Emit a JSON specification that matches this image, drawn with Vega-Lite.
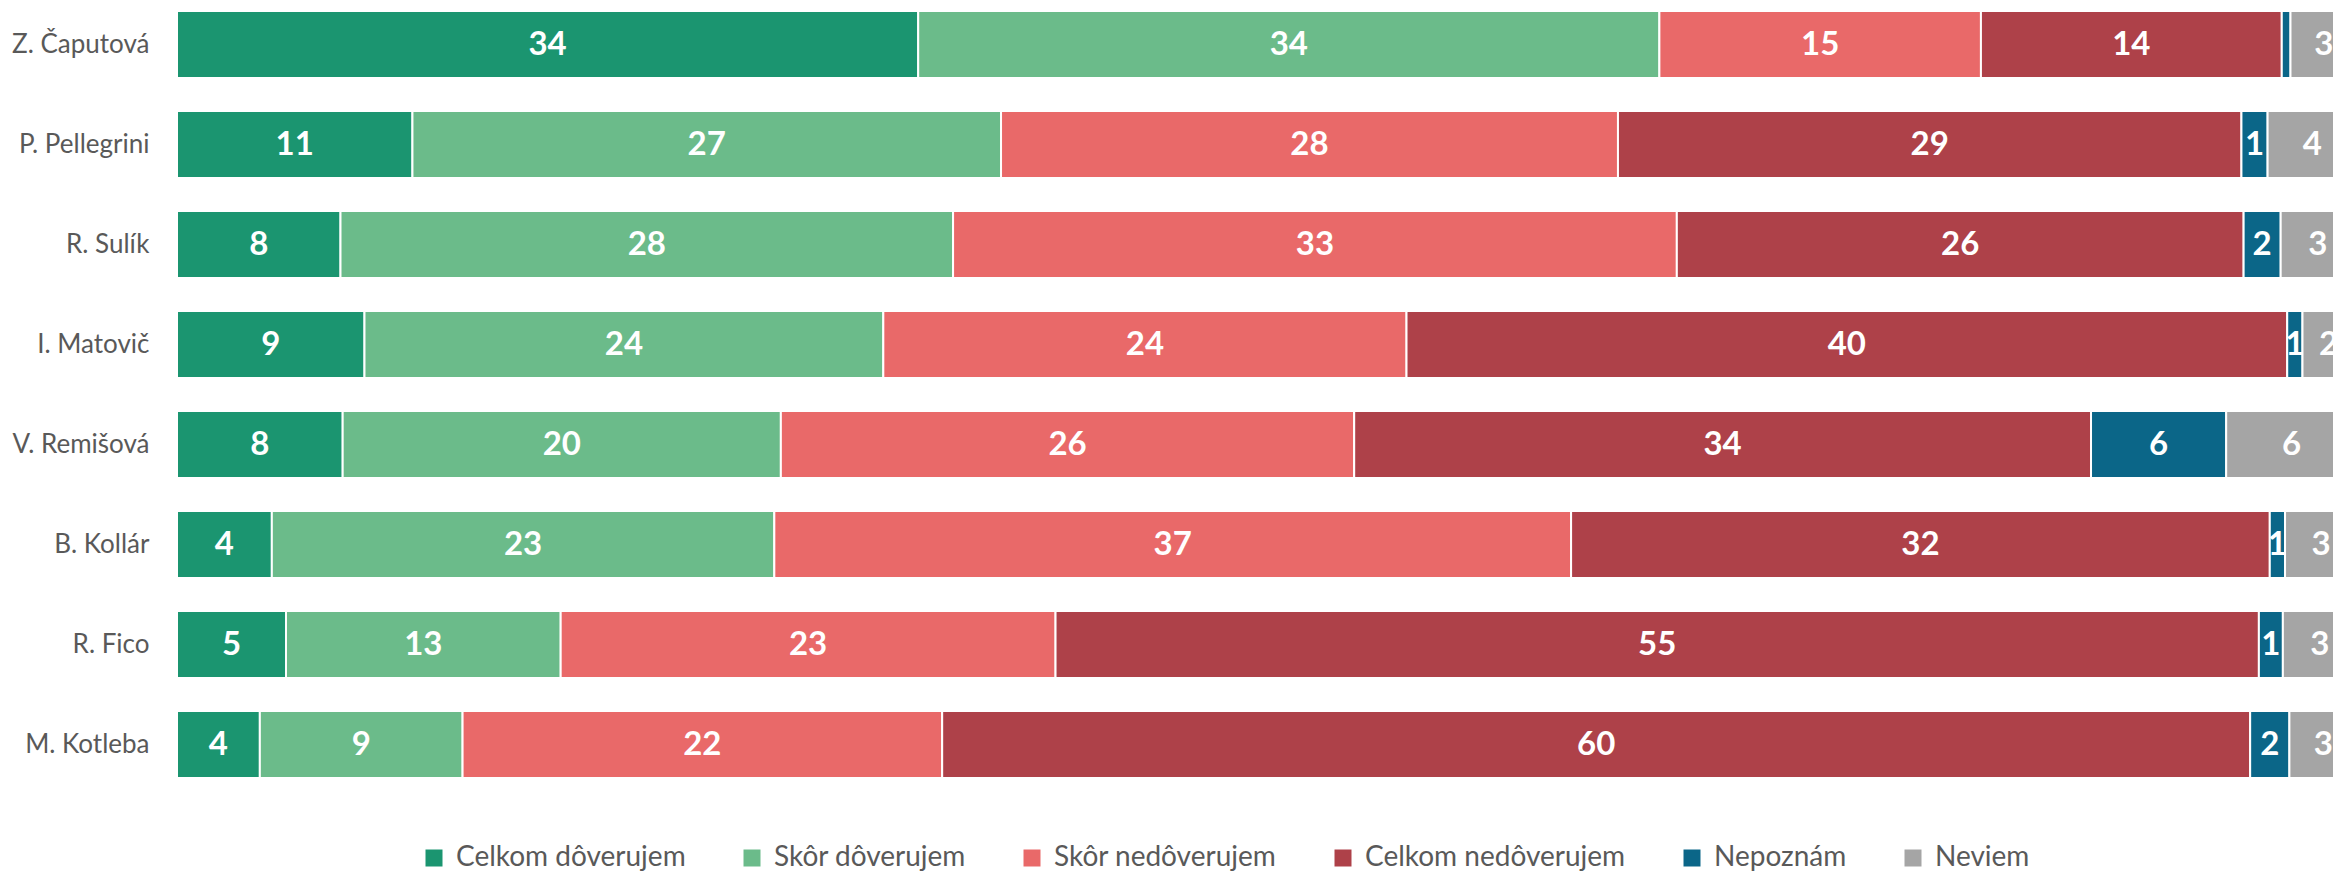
{
  "$schema": "https://vega.github.io/schema/vega-lite/v6.json",
  "width": 2156,
  "height": 789,
  "autosize": {"type": "none"},
  "padding": {"left": 177, "top": 0, "right": 0, "bottom": 82},
  "background": "white",
  "config": {"view": {"stroke": null}, "font": "Lato"},
  "data": {
    "values": [
      {"kandidat": "Z. Čaputová", "odpoved": "Celkom dôverujem", "poradie": 1, "podiel": 34.0},
      {"kandidat": "Z. Čaputová", "odpoved": "Skôr dôverujem", "poradie": 2, "podiel": 34.0},
      {"kandidat": "Z. Čaputová", "odpoved": "Skôr nedôverujem", "poradie": 3, "podiel": 14.75},
      {"kandidat": "Z. Čaputová", "odpoved": "Celkom nedôverujem", "poradie": 4, "podiel": 13.8},
      {"kandidat": "Z. Čaputová", "odpoved": "Nepoznám", "poradie": 5, "podiel": 0.4},
      {"kandidat": "Z. Čaputová", "odpoved": "Neviem", "poradie": 6, "podiel": 3.05},
      {"kandidat": "P. Pellegrini", "odpoved": "Celkom dôverujem", "poradie": 1, "podiel": 10.8},
      {"kandidat": "P. Pellegrini", "odpoved": "Skôr dôverujem", "poradie": 2, "podiel": 27.0},
      {"kandidat": "P. Pellegrini", "odpoved": "Skôr nedôverujem", "poradie": 3, "podiel": 28.3},
      {"kandidat": "P. Pellegrini", "odpoved": "Celkom nedôverujem", "poradie": 4, "podiel": 28.6},
      {"kandidat": "P. Pellegrini", "odpoved": "Nepoznám", "poradie": 5, "podiel": 1.2},
      {"kandidat": "P. Pellegrini", "odpoved": "Neviem", "poradie": 6, "podiel": 4.1},
      {"kandidat": "R. Sulík", "odpoved": "Celkom dôverujem", "poradie": 1, "podiel": 7.5},
      {"kandidat": "R. Sulík", "odpoved": "Skôr dôverujem", "poradie": 2, "podiel": 28.1},
      {"kandidat": "R. Sulík", "odpoved": "Skôr nedôverujem", "poradie": 3, "podiel": 33.2},
      {"kandidat": "R. Sulík", "odpoved": "Celkom nedôverujem", "poradie": 4, "podiel": 26.0},
      {"kandidat": "R. Sulík", "odpoved": "Nepoznám", "poradie": 5, "podiel": 1.7},
      {"kandidat": "R. Sulík", "odpoved": "Neviem", "poradie": 6, "podiel": 3.4},
      {"kandidat": "I. Matovič", "odpoved": "Celkom dôverujem", "poradie": 1, "podiel": 8.6},
      {"kandidat": "I. Matovič", "odpoved": "Skôr dôverujem", "poradie": 2, "podiel": 23.8},
      {"kandidat": "I. Matovič", "odpoved": "Skôr nedôverujem", "poradie": 3, "podiel": 24.0},
      {"kandidat": "I. Matovič", "odpoved": "Celkom nedôverujem", "poradie": 4, "podiel": 40.4},
      {"kandidat": "I. Matovič", "odpoved": "Nepoznám", "poradie": 5, "podiel": 0.7},
      {"kandidat": "I. Matovič", "odpoved": "Neviem", "poradie": 6, "podiel": 2.4},
      {"kandidat": "V. Remišová", "odpoved": "Celkom dôverujem", "poradie": 1, "podiel": 7.6},
      {"kandidat": "V. Remišová", "odpoved": "Skôr dôverujem", "poradie": 2, "podiel": 20.1},
      {"kandidat": "V. Remišová", "odpoved": "Skôr nedôverujem", "poradie": 3, "podiel": 26.3},
      {"kandidat": "V. Remišová", "odpoved": "Celkom nedôverujem", "poradie": 4, "podiel": 33.8},
      {"kandidat": "V. Remišová", "odpoved": "Nepoznám", "poradie": 5, "podiel": 6.2},
      {"kandidat": "V. Remišová", "odpoved": "Neviem", "poradie": 6, "podiel": 6.0},
      {"kandidat": "B. Kollár", "odpoved": "Celkom dôverujem", "poradie": 1, "podiel": 4.35},
      {"kandidat": "B. Kollár", "odpoved": "Skôr dôverujem", "poradie": 2, "podiel": 23.05},
      {"kandidat": "B. Kollár", "odpoved": "Skôr nedôverujem", "poradie": 3, "podiel": 36.55},
      {"kandidat": "B. Kollár", "odpoved": "Celkom nedôverujem", "poradie": 4, "podiel": 32.05},
      {"kandidat": "B. Kollár", "odpoved": "Nepoznám", "poradie": 5, "podiel": 0.7},
      {"kandidat": "B. Kollár", "odpoved": "Neviem", "poradie": 6, "podiel": 3.3},
      {"kandidat": "R. Fico", "odpoved": "Celkom dôverujem", "poradie": 1, "podiel": 5.0},
      {"kandidat": "R. Fico", "odpoved": "Skôr dôverujem", "poradie": 2, "podiel": 12.6},
      {"kandidat": "R. Fico", "odpoved": "Skôr nedôverujem", "poradie": 3, "podiel": 22.7},
      {"kandidat": "R. Fico", "odpoved": "Celkom nedôverujem", "poradie": 4, "podiel": 55.2},
      {"kandidat": "R. Fico", "odpoved": "Nepoznám", "poradie": 5, "podiel": 1.1},
      {"kandidat": "R. Fico", "odpoved": "Neviem", "poradie": 6, "podiel": 3.4},
      {"kandidat": "M. Kotleba", "odpoved": "Celkom dôverujem", "poradie": 1, "podiel": 3.8},
      {"kandidat": "M. Kotleba", "odpoved": "Skôr dôverujem", "poradie": 2, "podiel": 9.3},
      {"kandidat": "M. Kotleba", "odpoved": "Skôr nedôverujem", "poradie": 3, "podiel": 22.0},
      {"kandidat": "M. Kotleba", "odpoved": "Celkom nedôverujem", "poradie": 4, "podiel": 60.0},
      {"kandidat": "M. Kotleba", "odpoved": "Nepoznám", "poradie": 5, "podiel": 1.8},
      {"kandidat": "M. Kotleba", "odpoved": "Neviem", "poradie": 6, "podiel": 3.1}
    ]
  },
  "encoding": {
    "y": {
      "field": "kandidat",
      "type": "nominal",
      "sort": null,
      "title": null,
      "scale": {"paddingInner": 0.33, "paddingOuter": 0.11},
      "axis": {
        "domain": false,
        "ticks": false,
        "labelFontSize": 26,
        "labelColor": "#595959",
        "labelPadding": 28,
        "labelFont": "Lato"
      }
    },
    "x": {
      "field": "podiel",
      "type": "quantitative",
      "stack": "zero",
      "scale": {"domain": [0, 98.9], "nice": false},
      "axis": null
    },
    "order": {"field": "poradie", "type": "quantitative", "sort": "ascending"},
    "color": {
      "field": "odpoved",
      "type": "nominal",
      "sort": ["Celkom dôverujem", "Skôr dôverujem", "Skôr nedôverujem", "Celkom nedôverujem", "Nepoznám", "Neviem"],
      "scale": {
        "domain": ["Celkom dôverujem", "Skôr dôverujem", "Skôr nedôverujem", "Celkom nedôverujem", "Nepoznám", "Neviem"],
        "range": ["#1b9570", "#6bbb8a", "#e96969", "#ae4149", "#0b6688", "#a5a5a5"]
      },
      "legend": {
        "orient": "none",
        "legendX": 243,
        "legendY": 844,
        "direction": "horizontal",
        "columns": 6,
        "title": null,
        "symbolType": "square",
        "symbolSize": 289,
        "symbolStrokeWidth": 0,
        "symbolOpacity": 1,
        "labelFontSize": 28,
        "labelFont": "Lato",
        "labelColor": "#595959",
        "labelOffset": 8,
        "columnPadding": 52,
        "labelLimit": 0
      }
    }
  },
  "layer": [
    {
      "mark": {"type": "bar", "clip": true, "stroke": "white", "strokeWidth": 2}
    },
    {
      "mark": {"type": "text", "clip": true, "fontWeight": "bold", "fontSize": 33, "baseline": "middle", "align": "center", "font": "Lato"},
      "encoding": {
        "x": {"field": "podiel", "type": "quantitative", "stack": "zero", "bandPosition": 0.5},
        "text": {"field": "podiel", "type": "quantitative", "format": ".0f"},
        "fill": {"value": "white"},
        "opacity": {"condition": {"test": "datum.podiel < 0.5", "value": 0}, "value": 1}
      }
    }
  ]
}
